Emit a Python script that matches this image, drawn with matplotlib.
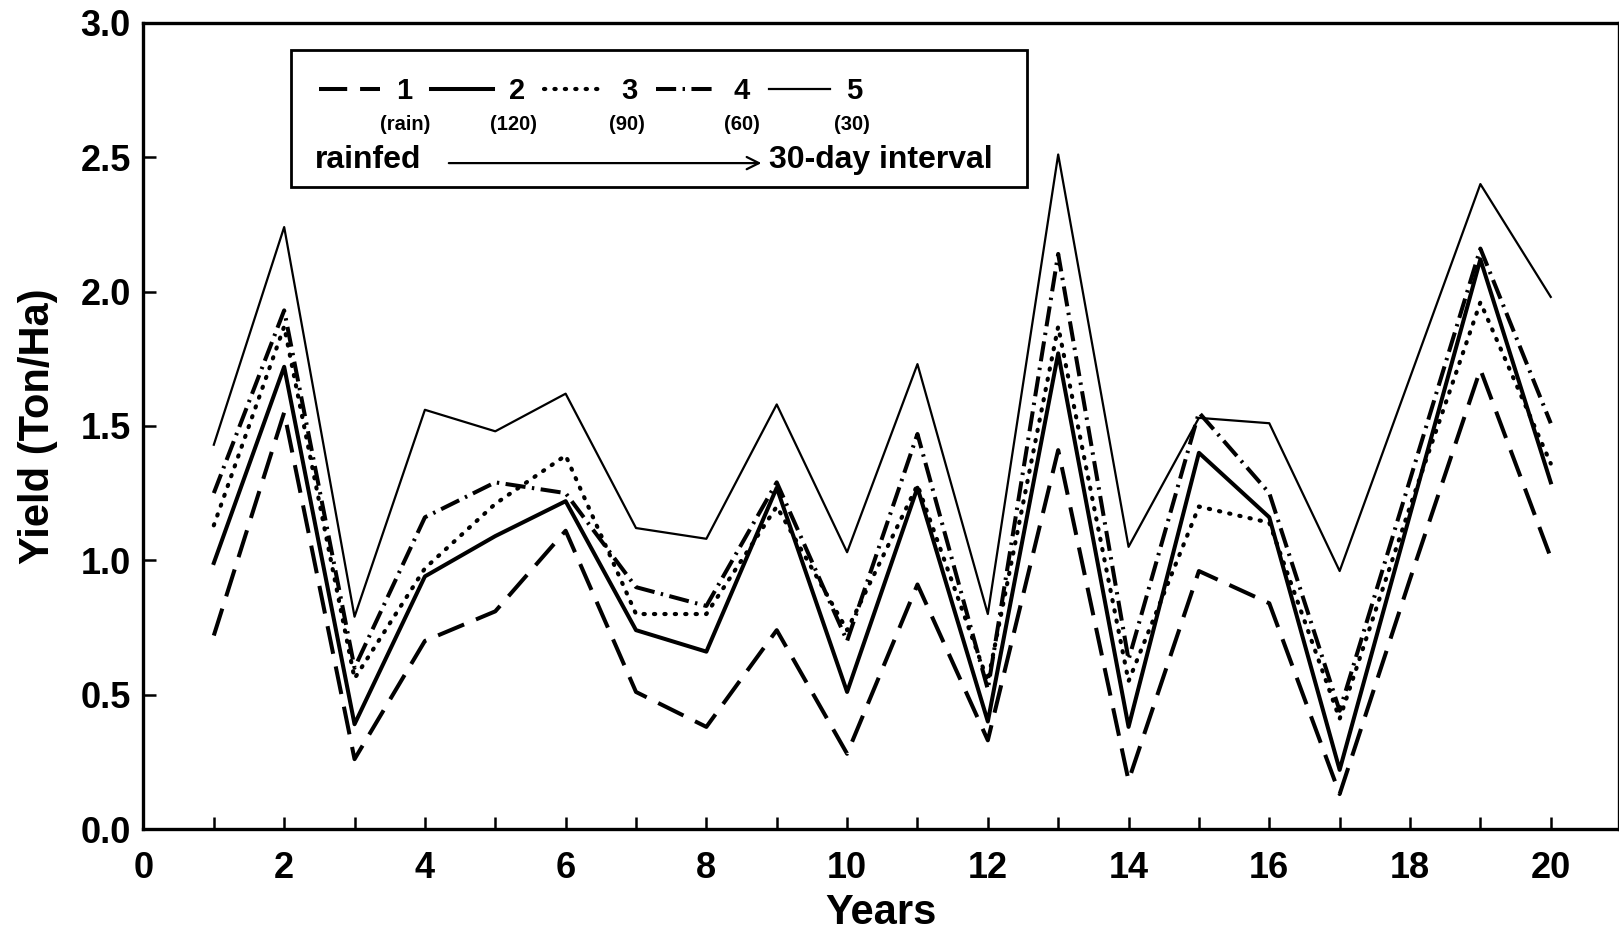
import matplotlib
matplotlib.use("Agg")
import matplotlib.pyplot as plt
from matplotlib.ticker import MultipleLocator

plt.rcParams['font.family'] = ['Liberation Sans', 'DejaVu Sans']
plt.rcParams['font.weight'] = 'bold'

years = list(range(1, 21))

# yield (Ton/Ha) per irrigation interval
rainfed = [0.72, 1.55, 0.26, 0.70, 0.81, 1.11, 0.51, 0.38, 0.74, 0.28,
           0.91, 0.33, 1.41, 0.18, 0.96, 0.84, 0.13, 0.93, 1.71, 1.01]
int120 = [0.99, 1.72, 0.39, 0.94, 1.09, 1.22, 0.74, 0.66, 1.27, 0.51,
          1.27, 0.40, 1.77, 0.38, 1.40, 1.16, 0.22, 1.17, 2.12, 1.29]
int90 = [1.13, 1.87, 0.56, 0.97, 1.21, 1.39, 0.80, 0.80, 1.20, 0.74,
         1.28, 0.55, 1.87, 0.55, 1.20, 1.14, 0.41, 1.20, 1.96, 1.36]
int60 = [1.25, 1.93, 0.60, 1.16, 1.29, 1.25, 0.90, 0.83, 1.29, 0.70,
         1.47, 0.52, 2.14, 0.63, 1.55, 1.25, 0.44, 1.30, 2.16, 1.51]
int30 = [1.43, 2.24, 0.79, 1.56, 1.48, 1.62, 1.12, 1.08, 1.58, 1.03,
         1.73, 0.80, 2.51, 1.05, 1.53, 1.51, 0.96, 1.68, 2.40, 1.98]

labels = ['1', '2', '3', '4', '5']
sublabels = ['(rain)', '(120)', '(90)', '(60)', '(30)']

fig = plt.figure(figsize=(16.19, 9.32), dpi=100)
ax = fig.add_axes([0.0886, 0.1105, 0.9114, 0.865])

l1, = ax.plot(years, rainfed, color='black', lw=2.9, linestyle=(0, (7, 3.2)))
l2, = ax.plot(years, int120, color='black', lw=2.9, linestyle='-')
l3, = ax.plot(years, int90, color='black', lw=3.0, linestyle=(0, (0.3, 2.2)),
              dash_capstyle='round')
l4, = ax.plot(years, int60, color='black', lw=2.9, linestyle=(0, (5, 1.6, 0.6, 1.6)))
l5, = ax.plot(years, int30, color='black', lw=1.6, linestyle='-')

ax.set_xlim(0, 20.97)
ax.set_ylim(0, 3.0)
ax.xaxis.set_major_locator(MultipleLocator(2))
ax.xaxis.set_minor_locator(MultipleLocator(1))
ax.yaxis.set_major_locator(MultipleLocator(0.5))
ax.tick_params(axis='both', which='both', direction='in', width=1.8,
               labelsize=26)
ax.tick_params(axis='both', which='major', length=9)
ax.tick_params(axis='both', which='minor', length=9)
ax.tick_params(axis='x', pad=16)
ax.tick_params(axis='y', pad=9)
ax.yaxis.set_major_formatter(plt.FormatStrFormatter('%.1f'))
for lab in ax.get_xticklabels() + ax.get_yticklabels():
    lab.set_fontweight('bold')
for sp in ax.spines.values():
    sp.set_linewidth(2.4)

ax.set_xlabel('Years', fontsize=30, fontweight='bold', labelpad=5)
ax.set_ylabel('Yield (Ton/Ha)', fontsize=30, fontweight='bold', labelpad=16)

# legend box
box = plt.Rectangle((0.1797, 0.7994), 0.4546, 0.147, transform=fig.transFigure,
                    fill=False, lw=2.0, edgecolor='black')
fig.patches.append(box)

fig.legend([l1, l2, l3, l4, l5], labels, loc='center left',
           bbox_to_anchor=(0.197, 0.9024), ncol=5, frameon=False,
           prop={'size': 21, 'weight': 'bold'}, handlelength=2.1,
           handletextpad=0.55, columnspacing=0.65, borderpad=0,
           borderaxespad=0)

for xs, s in zip([0.25, 0.317, 0.387, 0.458, 0.526], sublabels):
    fig.text(xs, 0.866, s, ha='center', va='center', fontsize=14.5,
             fontweight='bold')

fig.text(0.1946, 0.828, 'rainfed', ha='left', va='center', fontsize=23,
         fontweight='bold')
fig.text(0.475, 0.828, '30-day interval', ha='left', va='center', fontsize=23,
         fontweight='bold')
fig.add_artist(matplotlib.patches.FancyArrowPatch(
    (0.2755, 0.825), (0.472, 0.825), transform=fig.transFigure,
    arrowstyle='->', mutation_scale=22, lw=1.6, color='black'))

fig.savefig('out.png', dpi=100)
